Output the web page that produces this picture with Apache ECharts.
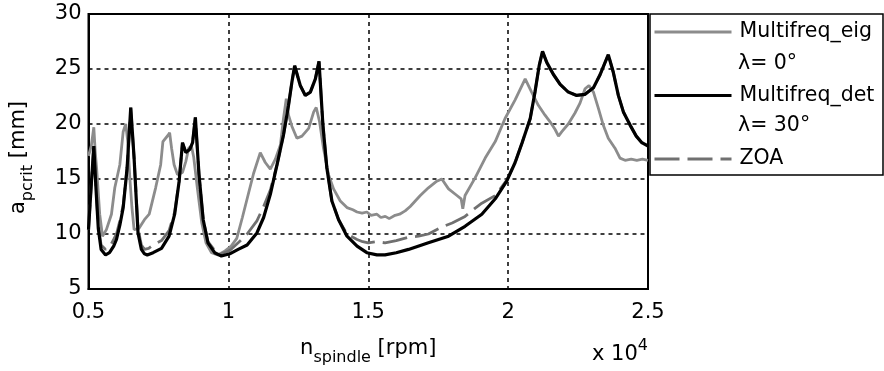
<!DOCTYPE html>
<html>
<head>
<meta charset="utf-8">
<title>Critical depth of cut vs spindle speed</title>
<script src="https://cdn.jsdelivr.net/npm/echarts@6/dist/echarts.min.js"></script>
<style>
  html, body { margin: 0; padding: 0; background: #fff; }
  #chart { width: 884px; height: 371px; }
</style>
</head>
<body>
<div id="chart"></div>
<script>
// spindle speed in units of 10^4 rpm, a_pcrit in mm
const xTickLabels = ['0.5', '1', '1.5', '2', '2.5']
const yTickLabels = ['5', '10', '15', '20', '25', '30']

const multifreqEig = [
  [0.500, 17.1], [0.510, 18.0], [0.519, 19.7], [0.524, 17.5], [0.529, 16.0], [0.540, 11.8],
  [0.550, 9.8], [0.564, 10.4], [0.582, 11.8], [0.594, 14.2], [0.612, 16.3], [0.624, 19.3],
  [0.633, 20.0], [0.640, 18.5], [0.648, 15.0], [0.655, 12.5], [0.663, 10.4], [0.680, 10.5],
  [0.700, 11.3], [0.717, 11.8], [0.740, 14.2], [0.758, 16.3], [0.766, 18.4], [0.785, 19.0],
  [0.790, 19.2], [0.797, 17.8], [0.806, 16.3], [0.818, 15.4], [0.836, 15.6], [0.848, 16.6],
  [0.858, 17.8], [0.868, 18.0], [0.876, 17.0], [0.890, 14.0], [0.905, 11.0], [0.920, 9.2],
  [0.940, 8.3], [0.962, 8.1], [0.985, 8.4], [1.010, 8.9], [1.030, 9.6], [1.050, 11.5],
  [1.070, 13.5], [1.090, 15.5], [1.114, 17.4], [1.132, 16.5], [1.150, 15.9], [1.168, 16.8],
  [1.186, 18.1], [1.197, 20.5], [1.207, 22.3], [1.215, 20.8], [1.227, 19.8], [1.245, 18.7],
  [1.263, 18.9], [1.287, 19.6], [1.305, 21.1], [1.314, 21.5], [1.326, 20.2], [1.340, 17.8],
  [1.358, 15.4], [1.376, 14.1], [1.400, 13.0], [1.424, 12.4], [1.445, 12.2], [1.460, 12.0],
  [1.478, 11.9], [1.495, 12.0], [1.510, 11.7], [1.531, 11.8], [1.545, 11.5], [1.561, 11.6],
  [1.575, 11.4], [1.596, 11.7], [1.612, 11.8], [1.632, 12.1], [1.650, 12.5], [1.668, 13.0],
  [1.686, 13.5], [1.715, 14.2], [1.745, 14.8], [1.763, 15.0], [1.787, 14.1], [1.817, 13.5],
  [1.832, 13.2], [1.838, 12.3], [1.846, 13.5], [1.882, 15.1], [1.918, 16.9], [1.954, 18.4],
  [1.989, 20.5], [2.025, 22.2], [2.061, 24.1], [2.084, 22.9], [2.108, 21.7], [2.132, 20.8],
  [2.150, 20.2], [2.168, 19.5], [2.180, 18.9], [2.192, 19.3], [2.215, 20.0], [2.239, 21.0],
  [2.257, 21.9], [2.275, 23.2], [2.289, 23.5], [2.305, 22.9], [2.323, 21.4], [2.340, 19.9],
  [2.358, 18.7], [2.382, 17.8], [2.400, 16.9], [2.418, 16.7], [2.440, 16.8], [2.460, 16.7],
  [2.480, 16.8], [2.500, 16.7],
]

const multifreqDet = [
  [0.500, 10.4], [0.510, 14.5], [0.519, 18.0], [0.527, 14.0], [0.535, 10.5], [0.545, 8.6],
  [0.561, 8.1], [0.575, 8.3], [0.590, 8.9], [0.600, 9.5], [0.612, 10.8], [0.624, 12.4],
  [0.638, 16.0], [0.651, 21.5], [0.663, 16.9], [0.677, 10.1], [0.689, 8.6], [0.700, 8.2],
  [0.710, 8.1], [0.731, 8.3], [0.761, 8.7], [0.788, 9.8], [0.808, 11.8], [0.824, 14.8],
  [0.836, 18.3], [0.848, 17.4], [0.862, 17.7], [0.872, 18.3], [0.882, 20.6], [0.895, 15.4],
  [0.910, 11.3], [0.927, 9.2], [0.951, 8.3], [0.975, 8.0], [1.005, 8.2], [1.035, 8.6],
  [1.067, 9.0], [1.102, 10.1], [1.126, 11.5], [1.150, 13.6], [1.174, 16.3], [1.197, 19.0],
  [1.215, 21.7], [1.227, 23.8], [1.237, 25.3], [1.257, 23.5], [1.275, 22.6], [1.293, 22.9],
  [1.311, 24.1], [1.324, 25.7], [1.338, 19.9], [1.352, 16.0], [1.370, 13.0], [1.394, 11.3],
  [1.424, 9.8], [1.460, 8.9], [1.495, 8.3], [1.531, 8.1], [1.560, 8.1], [1.600, 8.3],
  [1.644, 8.6], [1.715, 9.2], [1.787, 9.8], [1.846, 10.7], [1.906, 11.8], [1.954, 13.2],
  [1.995, 14.8], [2.025, 16.5], [2.050, 18.3], [2.079, 20.5], [2.096, 22.9], [2.111, 25.3],
  [2.123, 26.6], [2.138, 25.6], [2.162, 24.5], [2.186, 23.6], [2.215, 22.9], [2.245, 22.6],
  [2.275, 22.7], [2.305, 23.3], [2.329, 24.5], [2.358, 26.3], [2.376, 24.7], [2.394, 22.6],
  [2.412, 21.1], [2.436, 19.9], [2.458, 18.9], [2.478, 18.3], [2.500, 18.0],
]

const zoa = [
  [0.500, 10.4], [0.510, 14.5], [0.519, 18.0], [0.527, 14.0], [0.535, 10.8], [0.545, 9.0],
  [0.561, 8.6], [0.575, 8.8], [0.590, 9.5], [0.600, 10.0], [0.612, 11.2], [0.624, 12.6],
  [0.638, 16.0], [0.651, 21.5], [0.663, 16.9], [0.677, 10.5], [0.689, 9.0], [0.700, 8.6],
  [0.715, 8.7], [0.731, 9.0], [0.761, 9.4], [0.788, 10.3], [0.808, 12.0], [0.824, 14.8],
  [0.836, 18.3], [0.848, 17.4], [0.862, 17.7], [0.872, 18.3], [0.882, 20.6], [0.895, 15.4],
  [0.910, 11.3], [0.927, 9.3], [0.951, 8.5], [0.975, 8.2], [1.005, 8.5], [1.035, 9.2],
  [1.067, 10.0], [1.102, 11.2], [1.126, 12.5], [1.150, 14.0], [1.174, 16.3], [1.197, 19.0],
  [1.215, 21.7], [1.227, 23.8], [1.237, 25.3], [1.257, 23.5], [1.275, 22.6], [1.293, 22.9],
  [1.311, 24.1], [1.324, 25.7], [1.338, 19.9], [1.352, 16.0], [1.370, 13.0], [1.394, 11.3],
  [1.424, 10.0], [1.445, 9.7], [1.460, 9.5], [1.480, 9.3], [1.500, 9.2], [1.530, 9.3],
  [1.560, 9.2], [1.600, 9.4], [1.644, 9.7], [1.680, 9.8], [1.715, 10.0], [1.760, 10.6],
  [1.800, 11.0], [1.846, 11.6], [1.880, 12.3], [1.906, 12.8], [1.954, 13.5], [1.995, 14.9],
  [2.025, 16.5], [2.050, 18.3], [2.079, 20.5], [2.096, 22.9], [2.111, 25.3], [2.123, 26.6],
  [2.138, 25.6], [2.162, 24.5], [2.186, 23.6], [2.215, 22.9], [2.245, 22.6], [2.275, 22.7],
  [2.305, 23.3], [2.329, 24.5], [2.358, 26.3], [2.376, 24.7], [2.394, 22.6], [2.412, 21.1],
  [2.436, 19.9], [2.458, 18.9], [2.478, 18.3], [2.500, 18.0],
]

const FONT = 'DejaVu Sans'
const chart = echarts.init(document.getElementById('chart'), null, { renderer: 'canvas' })

const option = {
  animation: false,
  backgroundColor: '#fff',
  textStyle: { fontFamily: FONT, color: '#000' },
  grid: {
    left: 88,
    top: 14,
    width: 560,
    height: 279,
    show: true,
    borderColor: '#000',
    borderWidth: 2,
    backgroundColor: '#fff',
  },
  legend: {
    orient: 'vertical',
    left: 653,
    top: 20,
    z: 10,
    itemWidth: 77,
    itemHeight: 24,
    itemGap: 39.5,
    padding: 0,
    data: ['Multifreq_eig', 'Multifreq_det', 'ZOA'],
    lineStyle: { width: 3 },
    itemStyle: { opacity: 0 },
    textStyle: { fontFamily: FONT, fontSize: 20.5, color: '#000', lineHeight: 24, padding: [0, 0, 0, 3] },
  },
  xAxis: {
    type: 'value',
    min: 0.5,
    max: 2.5,
    interval: 0.5,
    name: '{m|n}{s|spindle}{m| [rpm]}',
    nameLocation: 'middle',
    nameGap: 43,
    nameTextStyle: {
      rich: {
        m: { fontFamily: FONT, fontSize: 21, color: '#000' },
        s: { fontFamily: FONT, fontSize: 16, color: '#000', padding: [18, 0, 0, 0] },
      },
    },
    axisLine: { onZero: false, lineStyle: { color: '#000', width: 2 } },
    axisTick: { show: false },
    axisLabel: {
      fontFamily: FONT,
      fontSize: 21,
      color: '#000',
      margin: 13,
      formatter: (v, i) => xTickLabels[i],
    },
    splitLine: { show: true, lineStyle: { color: '#000', width: 1.5, type: [4, 4] } },
  },
  yAxis: {
    type: 'value',
    min: 5,
    max: 30,
    interval: 5,
    name: '{m|a}{s|pcrit}{m| [mm]}',
    nameLocation: 'middle',
    nameGap: 53,
    nameTextStyle: {
      padding: [0, 12, 0, 0],
      rich: {
        m: { fontFamily: FONT, fontSize: 21, color: '#000' },
        s: { fontFamily: FONT, fontSize: 16, color: '#000', padding: [18, 0, 0, 0] },
      },
    },
    axisLine: { onZero: false, lineStyle: { color: '#000', width: 2 } },
    axisTick: { show: false },
    axisLabel: {
      fontFamily: FONT,
      fontSize: 21,
      color: '#000',
      margin: 7,
      formatter: (v, i) => yTickLabels[i],
    },
    splitLine: { show: true, lineStyle: { color: '#000', width: 1.5, type: [4, 4] } },
  },
  graphic: [
    {
      type: 'rect',
      z: 1,
      shape: { x: 650, y: 14, width: 233, height: 161 },
      style: { fill: '#fff', stroke: '#000', lineWidth: 1.5 },
    },
    {
      type: 'text',
      z: 11,
      left: 738,
      top: 53,
      style: { text: 'λ= 0°', font: '20.5px "DejaVu Sans"', fill: '#000' },
    },
    {
      type: 'text',
      z: 11,
      left: 738,
      top: 115,
      style: { text: 'λ= 30°', font: '20.5px "DejaVu Sans"', fill: '#000' },
    },
    {
      type: 'text',
      z: 11,
      right: 236,
      top: 338,
      style: {
        text: '{m|x 10}{s|4}',
        rich: {
          m: { fontFamily: FONT, fontSize: 21, fill: '#000' },
          s: { fontFamily: FONT, fontSize: 16, fill: '#000', padding: [0, 0, 18, 0] },
        },
      },
    },
  ],
  series: [
    {
      name: 'Multifreq_eig',
      type: 'line',
      data: multifreqEig,
      symbol: 'none',
      showSymbol: false,
      z: 2,
      lineStyle: { color: '#8c8c8c', width: 2.8 },
      itemStyle: { color: '#8c8c8c' },
    },
    {
      name: 'ZOA',
      type: 'line',
      data: zoa,
      symbol: 'none',
      showSymbol: false,
      z: 3,
      lineStyle: { color: '#707070', width: 2.8, type: [25, 8] },
      itemStyle: { color: '#707070' },
    },
    {
      name: 'Multifreq_det',
      type: 'line',
      data: multifreqDet,
      symbol: 'none',
      showSymbol: false,
      z: 4,
      lineStyle: { color: '#000', width: 3.2 },
      itemStyle: { color: '#000' },
    },
  ],
}

chart.setOption(option)
window.addEventListener('resize', () => chart.resize())
</script>
</body>
</html>
